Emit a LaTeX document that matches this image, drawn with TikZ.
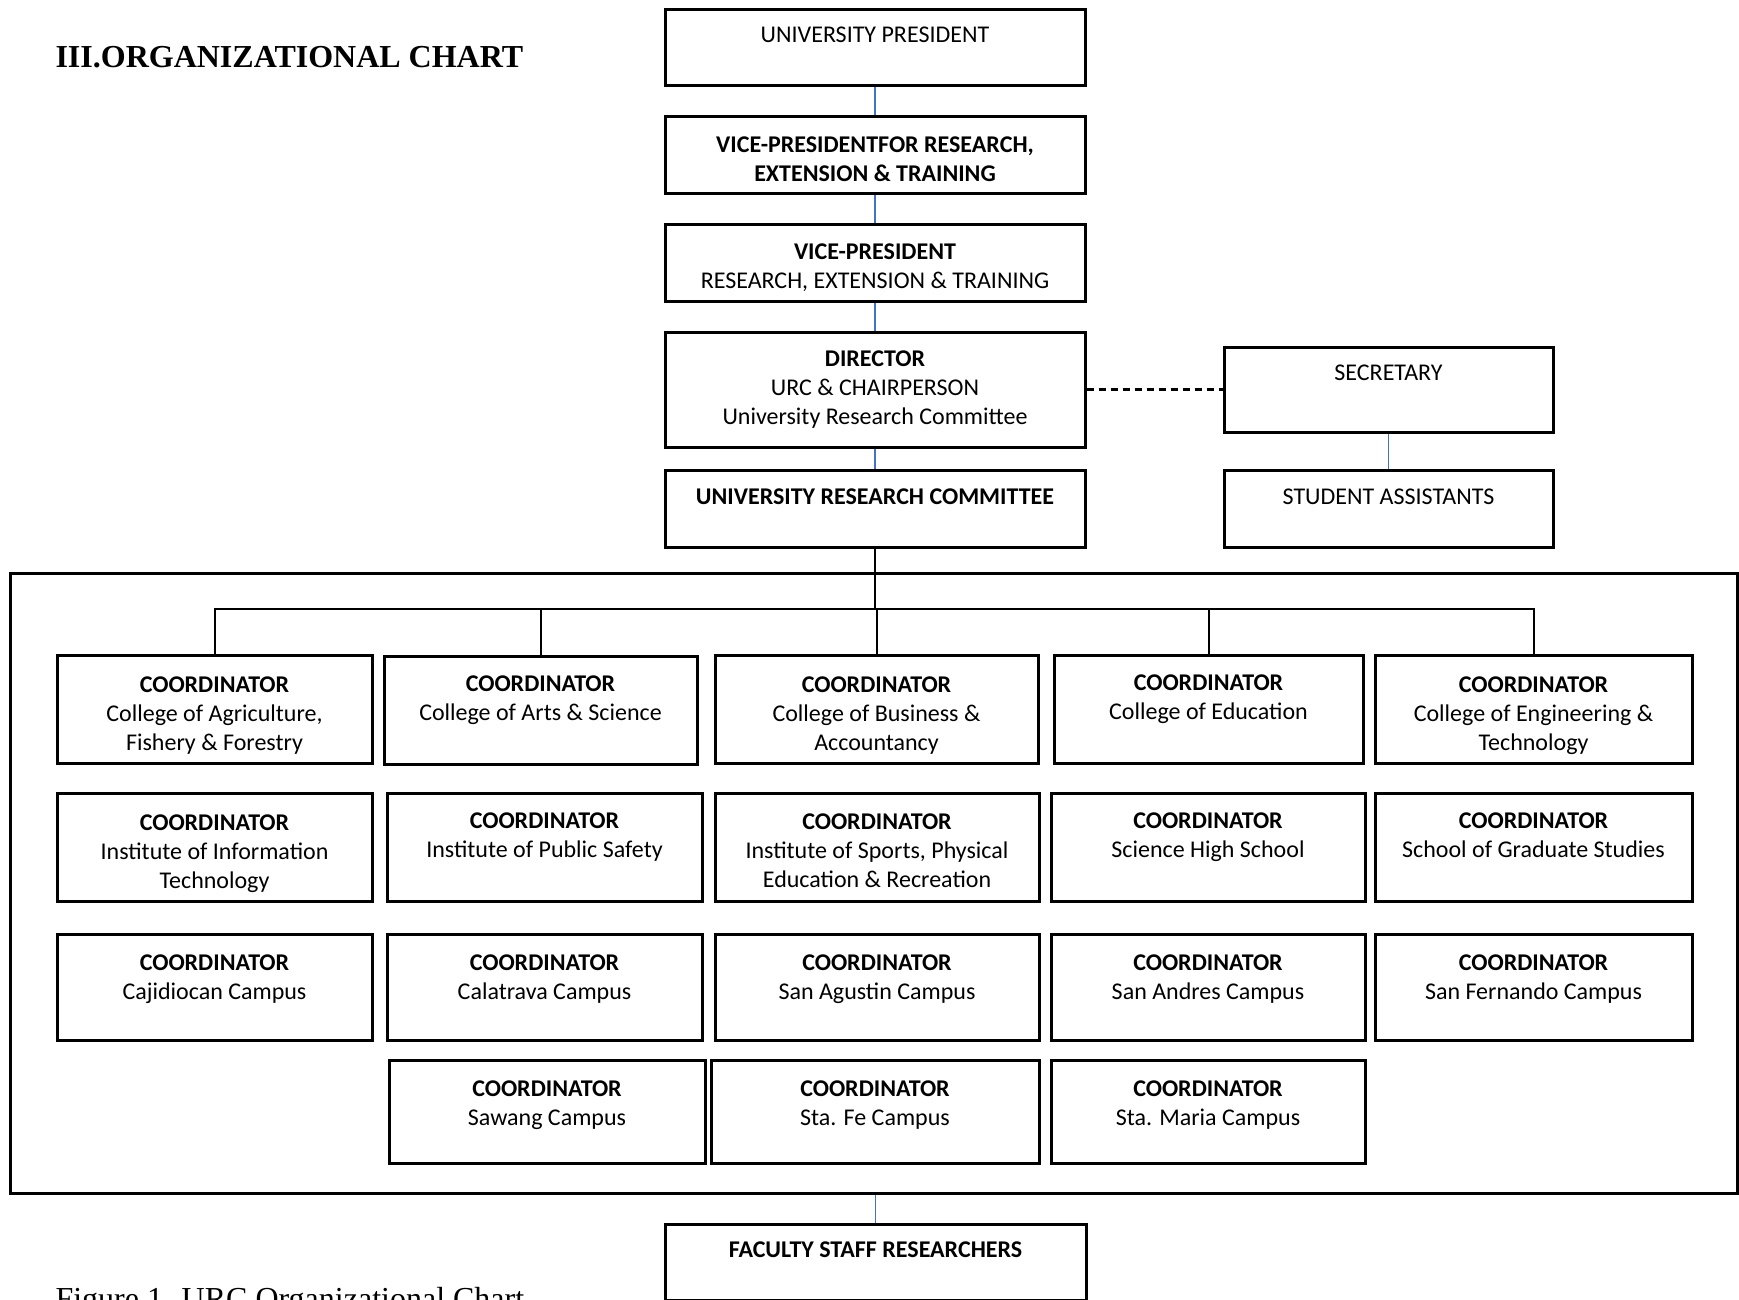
\documentclass[tikz,border=0pt]{standalone}
\usepackage{fontspec}
\setmainfont{Carlito}
\newfontfamily\titlefont{Liberation Serif}
\definecolor{LinkBlue}{HTML}{4472C4}

\begin{document}
\begin{tikzpicture}[x=1pt, y=-1pt,
      box/.style={draw, line width=3pt, inner sep=0pt, align=center, font=\fontsize{24}{29}\selectfont},
      toptext/.style={text depth=24pt},
      threeline/.style={text height=87pt},
      toprow/.style={box, minimum width=420pt, minimum height=77pt},
      row1/.style={box, minimum height=108pt},
      row2/.style={box, minimum height=108pt},
      row3/.style={box, minimum height=106pt, text depth=19.5pt},
      row4/.style={box, minimum height=103pt, text depth=17.5pt},
      link/.style={draw=LinkBlue, line width=1.6pt},
      tree/.style={draw=black, line width=2pt}]
    \useasboundingbox (0,0) rectangle (1739,1299);
    \node[anchor=base west] (title) at (52,67) {\titlefont\bfseries\fontsize{32}{38}\selectfont III.ORGANIZATIONAL CHART};
    \node[toprow, minimum height=76pt, toptext] (pres) at (875,47) {UNIVERSITY PRESIDENT};
    \node[toprow, text height=55pt] (vpret) at (875,154.5) {\textbf{VICE-PRESIDENTFOR RESEARCH,}\\\textbf{EXTENSION \& TRAINING}};
    \node[toprow, text height=55pt] (vpres) at (875,262.5) {\textbf{VICE-PRESIDENT}\\RESEARCH, EXTENSION \& TRAINING};
    \node[toprow, minimum height=115pt] (dir) at (875,389.5) {\textbf{DIRECTOR}\\URC \& CHAIRPERSON\\University Research Committee};
    \node[toprow, toptext] (urc) at (875,508.5) {\textbf{UNIVERSITY RESEARCH COMMITTEE}};
    \node[box, minimum width=329pt, minimum height=85pt, text depth=34pt] (sec) at (1388.5,389.5) {SECRETARY};
    \node[box, minimum width=329pt, minimum height=77pt, toptext] (stud) at (1388.5,508.5) {STUDENT ASSISTANTS};
    \node[draw, line width=3pt, minimum width=1727pt, minimum height=620pt] (frame) at (873.5,883) {};
    \node[toprow, minimum width=421pt, minimum height=76pt, toptext] (fac) at (875.5,1262) {\textbf{FACULTY STAFF RESEARCHERS}};

    \node[row1, minimum width=315pt, threeline] (agri) at (214.5,709) {\textbf{COORDINATOR}\\College of Agriculture,\\Fishery \& Forestry};
    \node[row1, minimum width=313pt, toptext] (arts) at (540.5,710) {\textbf{COORDINATOR}\\College of Arts \& Science};
    \node[row1, minimum width=323pt, threeline] (busi) at (876.5,709) {\textbf{COORDINATOR}\\College of Business \&\\Accountancy};
    \node[row1, minimum width=309pt, toptext] (educ) at (1208.5,709) {\textbf{COORDINATOR}\\College of Education};
    \node[row1, minimum width=317pt, threeline] (engi) at (1533.5,709) {\textbf{COORDINATOR}\\College of Engineering \&\\Technology};

    \node[row2, minimum width=315pt, threeline] (infotech) at (214.5,847) {\textbf{COORDINATOR}\\Institute of Information\\Technology};
    \node[row2, minimum width=315pt, toptext] (safety) at (544.5,847) {\textbf{COORDINATOR}\\Institute of Public Safety};
    \node[row2, minimum width=324pt, text height=81pt] (sports) at (877,847) {\textbf{COORDINATOR}\\Institute of Sports, Physical\\Education \& Recreation};
    \node[row2, minimum width=314pt, toptext] (shs) at (1208,847) {\textbf{COORDINATOR}\\Science High School};
    \node[row2, minimum width=317pt, toptext] (grad) at (1533.5,847) {\textbf{COORDINATOR}\\School of Graduate Studies};

    \node[row3, minimum width=315pt] (cajid) at (214.5,987) {\textbf{COORDINATOR}\\Cajidiocan Campus};
    \node[row3, minimum width=315pt] (calat) at (544.5,987) {\textbf{COORDINATOR}\\Calatrava Campus};
    \node[row3, minimum width=324pt] (sanag) at (877,987) {\textbf{COORDINATOR}\\San Agustin Campus};
    \node[row3, minimum width=314pt] (sanan) at (1208,987) {\textbf{COORDINATOR}\\San Andres Campus};
    \node[row3, minimum width=317pt] (sanfe) at (1533.5,987) {\textbf{COORDINATOR}\\San Fernando Campus};

    \node[row4, minimum width=316pt] (sawang) at (547,1111.5) {\textbf{COORDINATOR}\\Sawang Campus};
    \node[row4, minimum width=328pt] (stafe) at (875,1111.5) {\textbf{COORDINATOR}\\Sta. Fe Campus};
    \node[row4, minimum width=314pt] (stamaria) at (1208,1111.5) {\textbf{COORDINATOR}\\Sta. Maria Campus};

    \node[anchor=base west] (caption) at (52,1309) {\titlefont\fontsize{32}{38}\selectfont Figure 1. URC Organizational Chart};

    \draw[link] (pres) -- (vpret);
    \draw[link] (vpret) -- (vpres);
    \draw[link] (vpres) -- (dir);
    \draw[link] (dir) -- (urc);
    \draw[link] (sec) -- (stud);
    \draw[link] (frame.south -| fac.north) -- (fac.north);
    \draw[black, line width=2.5pt, dash pattern=on 7pt off 5pt] (dir.east) -- (sec.west);
    \coordinate (junc) at (875,609);
    \draw[tree] (urc.south) -- (junc);
    \foreach \n in {agri,arts,busi,educ,engi}
      \draw[tree] (junc) -| (\n.north);
  \end{tikzpicture}
\end{document}
